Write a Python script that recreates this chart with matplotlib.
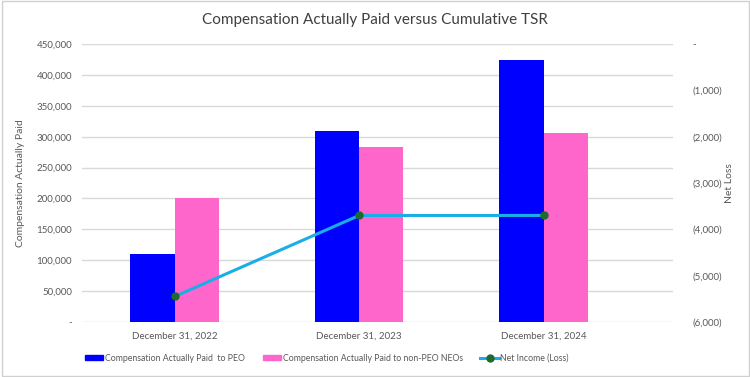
import numpy as np
import matplotlib.pyplot as plt
from matplotlib.patches import Rectangle
from matplotlib.lines import Line2D
from matplotlib.ticker import FuncFormatter

categories = ['December 31, 2022', 'December 31, 2023', 'December 31, 2024']
peo_cap = [110000, 310000, 424000]
non_peo_cap = [200000, 284000, 306000]
net_loss = [-5450, -3700, -3700]

plt.rcParams['font.family'] = ['Lato', 'DejaVu Sans']
txt = '#595959'

fig = plt.figure(figsize=(7.5, 3.77), dpi=100)
fig.patches.append(Rectangle((0.002, 0.003), 0.996, 0.994, transform=fig.transFigure,
                             fill=False, edgecolor='#d0d0d0', linewidth=1.0))
ax = fig.add_axes([0.109, 0.146, 0.788, 0.737])

x = np.arange(len(categories))
w = 0.24
ax.bar(x - w / 2, peo_cap, w, color='#0000ff', zorder=2)
ax.bar(x + w / 2, non_peo_cap, w, color='#ff66cc', zorder=2)

ax.set_ylim(0, 450000)
ax.set_yticks(np.arange(0, 450001, 50000))
ax.yaxis.set_major_formatter(FuncFormatter(lambda v, p: '-' if v == 0 else f'{v:,.0f}'))
ax.set_xlim(-0.504, 2.70)
ax.set_xticks(x)
ax.set_xticklabels(categories)
ax.grid(axis='y', color='#d9d9d9', linewidth=1.0, zorder=0)
for s in ax.spines.values():
    s.set_visible(False)
ax.tick_params(length=0, labelsize=7, colors=txt, pad=7)
ax.set_ylabel('Compensation Actually Paid', fontsize=7.5, color=txt, labelpad=8)

ax2 = ax.twinx()
ax2.plot(x, net_loss, color='#1aaee8', linewidth=2.2, marker='o', markersize=5,
         markerfacecolor='#1e6b2e', markeredgecolor='#1e6b2e', zorder=3)
ax2.set_ylim(-6000, 0)
ax2.set_yticks(np.arange(-6000, 1, 1000))
ax2.yaxis.set_major_formatter(FuncFormatter(lambda v, p: '-' if v == 0 else f'({abs(v):,.0f})'))
for s in ax2.spines.values():
    s.set_visible(False)
ax2.tick_params(length=0, labelsize=7, colors=txt, pad=14)
ax2.set_ylabel('Net Loss', fontsize=7.5, color=txt, labelpad=2)

fig.suptitle('Compensation Actually Paid versus Cumulative TSR', y=0.965, fontsize=11, color='#404040')

handles = [Rectangle((0, 0), 1, 1, color='#0000ff'),
           Rectangle((0, 0), 1, 1, color='#ff66cc'),
           Line2D([0], [0], color='#1aaee8', linewidth=2.2, marker='o', markersize=5,
                  markerfacecolor='#1e6b2e', markeredgecolor='#1e6b2e')]
labels = ['Compensation Actually Paid  to PEO', 'Compensation Actually Paid to non-PEO NEOs',
          'Net Income (Loss)']
fig.legend(handles, labels, loc='center', bbox_to_anchor=(0.436, 0.05), ncol=3, frameon=False,
           fontsize=6.3, labelcolor=txt, handlelength=2.1, handleheight=0.45,
           handletextpad=0.2, columnspacing=2.0)

fig.savefig('out.png', dpi=100)
